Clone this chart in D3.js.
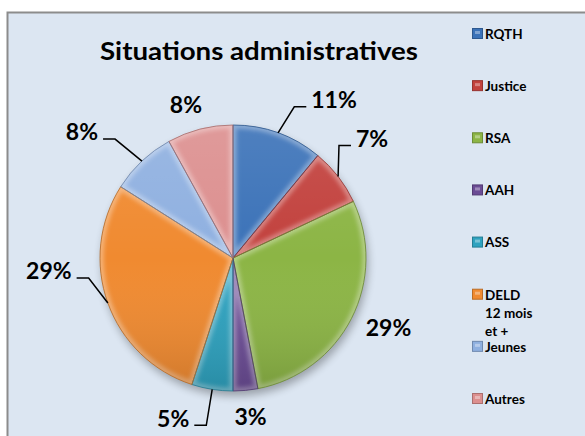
<!DOCTYPE html>
<html>
<head>
<meta charset="utf-8">
<script src="https://cdn.jsdelivr.net/npm/d3@7"></script>
<style>
  html, body { margin: 0; padding: 0; background: #fff; }
  svg { display: block; font-family: Lato, 'Open Sans', sans-serif; }
</style>
</head>
<body>
<div class="svg"></div>
<script>
const width = 585
const height = 436

// data
const categories = ['RQTH', 'Justice', 'RSA', 'AAH', 'ASS', 'DELD 12 mois et +', 'Jeunes', 'Autres']
const legendLines = [['RQTH'], ['Justice'], ['RSA'], ['AAH'], ['ASS'], ['DELD', '12 mois', 'et +'], ['Jeunes'], ['Autres']]
const values = [11, 7, 29, 3, 5, 29, 8, 8]
const colors = ['#3b72b8', '#c2413d', '#8cb545', '#6b4c95', '#2ea2bf', '#f08a30', '#8fb0e0', '#dc8f8f']

// label layout: nudge from the outer arc point, and whether a leader line is drawn
const labelNudge = [[56, -33], [34, -38], [37, 9], [5, 26], [-39, 29], [-59, -32], [-60, -29], [-14, -24]]
const hasLeader = [true, true, false, false, true, true, true, false]

const cx = 233
const cy = 258
const radius = 133

const svg = d3
  .select('.svg')
  .append('svg')
  .attr('width', width)
  .attr('height', height)

const defs = svg.append('defs')

defs
  .append('filter')
  .attr('id', 'shadow')
  .attr('x', '-20%')
  .attr('y', '-20%')
  .attr('width', '140%')
  .attr('height', '140%')
  .append('feGaussianBlur')
  .attr('stdDeviation', 4)

defs
  .append('filter')
  .attr('id', 'soft')
  .append('feGaussianBlur')
  .attr('stdDeviation', 2)

const shade = defs
  .append('linearGradient')
  .attr('id', 'shade')
  .attr('x1', 0)
  .attr('y1', 0)
  .attr('x2', 0)
  .attr('y2', 1)
shade.append('stop').attr('offset', '0%').attr('stop-color', '#fff').attr('stop-opacity', 0.1)
shade.append('stop').attr('offset', '50%').attr('stop-color', '#fff').attr('stop-opacity', 0)
shade.append('stop').attr('offset', '100%').attr('stop-color', '#000').attr('stop-opacity', 0.14)

// chart area frame
svg
  .append('rect')
  .attr('x', 7.5)
  .attr('y', 12.5)
  .attr('width', 620)
  .attr('height', 460)
  .attr('fill', '#dce6f2')
  .attr('stroke', '#8c8c8c')
  .attr('stroke-width', 2)

// title
svg
  .append('text')
  .attr('x', 259)
  .attr('y', 60)
  .attr('text-anchor', 'middle')
  .attr('font-size', 25)
  .attr('font-weight', 'bold')
  .attr('textLength', 318)
  .attr('lengthAdjust', 'spacingAndGlyphs')
  .text('Situations administratives')

// pie
const pie = d3.pie().sort(null).value(d => d)
const arcs = pie(values)
const arc = d3.arc().innerRadius(0).outerRadius(radius)

const g = svg.append('g').attr('transform', 'translate(' + cx + ',' + cy + ')')

g.append('circle')
  .attr('cx', 2)
  .attr('cy', 5)
  .attr('r', radius)
  .attr('fill', '#000')
  .attr('opacity', 0.3)
  .attr('filter', 'url(#shadow)')

arcs.forEach((a, i) => {
  defs
    .append('clipPath')
    .attr('id', 'clip' + i)
    .append('path')
    .attr('d', arc(a))
})

g.selectAll('path.slice')
  .data(arcs)
  .enter()
  .append('path')
  .attr('class', 'slice')
  .attr('d', arc)
  .attr('fill', (d, i) => colors[i])

// bevel highlight along the slice edges
g.selectAll('g.bevel')
  .data(arcs)
  .enter()
  .append('g')
  .attr('class', 'bevel')
  .attr('clip-path', (d, i) => 'url(#clip' + i + ')')
  .append('path')
  .attr('d', arc)
  .attr('fill', 'none')
  .attr('stroke', '#fff')
  .attr('stroke-opacity', 0.35)
  .attr('stroke-width', 7)
  .attr('filter', 'url(#soft)')

g.append('circle')
  .attr('r', radius)
  .attr('fill', 'url(#shade)')

g.selectAll('path.edge')
  .data(arcs)
  .enter()
  .append('path')
  .attr('class', 'edge')
  .attr('d', arc)
  .attr('fill', 'none')
  .attr('stroke', (d, i) => d3.color(colors[i]).darker(0.8))
  .attr('stroke-width', 0.8)

// data labels
const labels = arcs.map((a, i) => {
  const mid = (a.startAngle + a.endAngle) / 2
  const px = cx + radius * Math.sin(mid)
  const py = cy - radius * Math.cos(mid)
  return {
    i: i,
    text: Math.round(a.data) + '%',
    px: px,
    py: py,
    x: px + labelNudge[i][0],
    y: py + labelNudge[i][1]
  }
})

const labelText = svg
  .selectAll('text.pct')
  .data(labels)
  .enter()
  .append('text')
  .attr('class', 'pct')
  .attr('x', d => d.x)
  .attr('y', d => d.y)
  .attr('dy', '0.36em')
  .attr('text-anchor', 'middle')
  .attr('font-size', 23)
  .attr('font-weight', 'bold')
  .attr('fill', '#000')
  .text(d => d.text)

labelText.each(function (d) {
  d.half = this.getComputedTextLength() / 2
})

const line = d3.line()
svg
  .selectAll('path.leader')
  .data(labels.filter(d => hasLeader[d.i]))
  .enter()
  .append('path')
  .attr('class', 'leader')
  .attr('fill', 'none')
  .attr('stroke', '#000')
  .attr('stroke-width', 1.5)
  .attr('d', d => {
    const side = d.px > d.x ? 1 : -1
    const edge = d.x + side * d.half
    const ly = d.y + 7
    return line([[d.px, d.py], [edge + side * 17, ly], [edge + side * 5, ly]])
  })

// legend
const legendY = d3.scalePoint().domain(categories).range([34, 399])
const legend = svg.append('g').attr('id', 'legend')

categories.forEach((c, i) => {
  const y = legendY(c)
  legend
    .append('rect')
    .attr('x', 472.5)
    .attr('y', y - 5.5)
    .attr('width', 10)
    .attr('height', 10)
    .attr('fill', colors[i])
    .attr('stroke', d3.color(colors[i]).darker(0.7))
    .attr('stroke-width', 1)
  legend
    .append('rect')
    .attr('x', 475)
    .attr('y', y - 3)
    .attr('width', 5)
    .attr('height', 3)
    .attr('fill', '#fff')
    .attr('opacity', 0.35)
  legendLines[i].forEach((t, k) => {
    legend
      .append('text')
      .attr('x', 485)
      .attr('y', y + k * 18)
      .attr('dy', '0.36em')
      .attr('font-size', 13.5)
      .attr('font-weight', 'bold')
      .attr('fill', '#000')
      .text(t)
  })
})
</script>
</body>
</html>
